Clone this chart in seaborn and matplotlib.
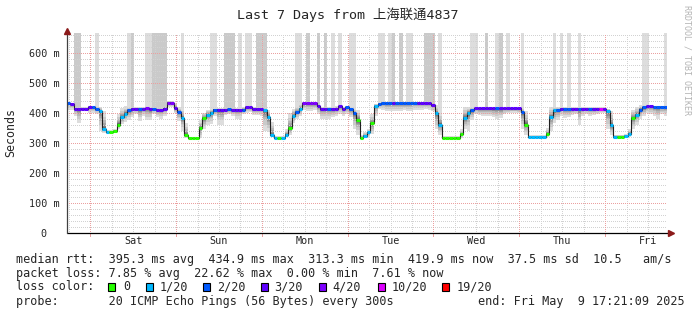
import numpy as np
import matplotlib
matplotlib.use("Agg")
import matplotlib.pyplot as plt
import seaborn as sns
from matplotlib.patches import Rectangle

# ---------------- data ----------------
TITLE = "Last 7 Days from 上海联通4837"
DAY_LABELS = ["Sat", "Sun", "Mon", "Tue", "Wed", "Thu", "Fri"]
Y_TICKS = [0, 100, 200, 300, 400, 500, 600]
Y_LABELS = ["0  ", "100 m", "200 m", "300 m", "400 m", "500 m", "600 m"]
FIRST_MIDNIGHT_H = 6.648   # hours after graph start (Fri 17:21:09) -> Sat 00:00

# hourly median rtt (ms)
MEDIAN_MS = [432, 430, 414, 414, 414, 414, 419, 419, 414, 407,
             345, 336, 336, 339, 361, 385, 397, 409, 414, 414,
             414, 414, 416, 414, 414, 410, 410, 414, 434, 434,
             416, 403, 383, 326, 315, 315, 315, 350, 383, 394,
             401, 411, 411, 411, 411, 412, 411, 411, 411, 411,
             419, 419, 414, 414, 414, 409, 387, 326, 317, 317,
             317, 328, 348, 390, 403, 414, 431, 431, 431, 431,
             422, 414, 414, 414, 414, 414, 422, 414, 418, 412,
             398, 376, 318, 324, 336, 365, 423, 430, 433, 433,
             433, 433, 433, 433, 433, 433, 433, 433, 433, 433,
             433, 433, 425, 398, 361, 318, 318, 318, 318, 318,
             329, 384, 400, 409, 415, 415, 415, 415, 415, 415,
             415, 415, 415, 415, 415, 415, 415, 403, 361, 319,
             319, 319, 319, 319, 330, 386, 408, 410, 414, 414,
             414, 414, 414, 414, 414, 414, 414, 414, 414, 414,
             414, 405, 359, 320, 320, 320, 323, 331, 383, 394,
             411, 418, 422, 422, 420, 420, 420, 420]

# hourly lost pings (of 20)
LOSS = [2, 3, 3, 3, 3, 3, 3, 2, 2, 1,
        1, 1, 0, 0, 0, 1, 1, 2, 3, 3,
        2, 3, 4, 3, 2, 3, 3, 3, 4, 4,
        3, 2, 1, 0, 0, 0, 0, 0, 0, 1,
        1, 2, 3, 3, 3, 2, 3, 3, 3, 2,
        3, 3, 3, 3, 3, 1, 1, 1, 1, 0,
        1, 1, 0, 1, 2, 1, 4, 4, 4, 4,
        3, 3, 3, 2, 3, 3, 3, 3, 2, 2,
        2, 0, 0, 1, 1, 0, 1, 2, 2, 2,
        2, 3, 2, 2, 2, 2, 2, 2, 3, 3,
        3, 3, 3, 1, 1, 0, 0, 0, 0, 0,
        0, 1, 1, 2, 3, 3, 3, 3, 3, 3,
        2, 3, 3, 3, 3, 3, 3, 2, 0, 1,
        1, 1, 1, 1, 0, 1, 1, 2, 3, 2,
        2, 3, 3, 2, 3, 3, 2, 3, 3, 10,
        3, 1, 1, 1, 0, 0, 1, 1, 0, 1,
        2, 2, 3, 3, 2, 2, 2, 2]

# number of pings per hour above the top of the graph
HIGH = [0, 0, 2, 2, 0, 0, 0, 0, 1, 0,
        0, 0, 0, 0, 0, 0, 0, 1, 2, 0,
        0, 0, 1, 1, 2, 2, 2, 2, 0, 0,
        0, 0, 1, 0, 0, 0, 0, 0, 0, 0,
        1, 1, 0, 0, 2, 2, 2, 0, 1, 0,
        1, 1, 0, 2, 2, 2, 0, 0, 0, 0,
        0, 0, 0, 0, 1, 1, 0, 2, 0, 0,
        2, 0, 2, 0, 1, 0, 1, 0, 0, 1,
        1, 0, 0, 0, 0, 0, 0, 1, 1, 0,
        1, 2, 0, 2, 0, 1, 1, 0, 0, 0,
        2, 2, 2, 0, 1, 0, 0, 0, 0, 0,
        0, 0, 0, 1, 1, 0, 0, 2, 0, 0,
        1, 2, 0, 1, 0, 0, 0, 1, 0, 0,
        0, 0, 0, 0, 0, 0, 1, 0, 1, 0,
        1, 0, 0, 1, 0, 0, 0, 0, 0, 0,
        0, 0, 0, 0, 0, 0, 0, 0, 0, 0,
        0, 1, 1, 0, 0, 0, 0, 1]

# lowest ping per hour (ms)
PING_MIN = [410, 408, 390, 366, 405, 405, 400, 400, 395, 340,
            332, 330, 330, 332, 345, 362, 371, 375, 385, 395,
            372, 390, 375, 375, 395, 385, 380, 390, 418, 420,
            398, 372, 340, 318, 312, 312, 312, 316, 345, 358,
            362, 390, 360, 360, 392, 395, 388, 380, 380, 395,
            400, 402, 392, 392, 390, 340, 335, 322, 312, 312,
            312, 320, 325, 365, 380, 390, 410, 405, 405, 410,
            395, 380, 378, 378, 385, 390, 395, 390, 395, 385,
            345, 328, 315, 318, 318, 330, 390, 412, 410, 405,
            405, 405, 405, 405, 408, 405, 405, 410, 410, 410,
            412, 410, 405, 345, 325, 314, 314, 314, 314, 314,
            318, 345, 340, 375, 395, 392, 390, 388, 390, 385,
            380, 382, 395, 398, 400, 400, 398, 345, 325, 315,
            315, 315, 315, 315, 320, 340, 365, 375, 390, 382,
            385, 392, 395, 360, 390, 395, 390, 392, 395, 398,
            398, 345, 325, 316, 316, 316, 318, 320, 345, 360,
            380, 390, 400, 395, 390, 380, 395, 390]

# highest (on-graph) ping per hour (ms)
PING_MAX = [436, 434, 418, 418, 418, 418, 423, 423, 420, 418,
            405, 342, 342, 345, 395, 416, 421, 418, 418, 418,
            418, 418, 420, 418, 418, 414, 414, 425, 440, 440,
            434, 418, 415, 365, 320, 320, 320, 375, 400, 410,
            414, 415, 415, 415, 415, 416, 415, 415, 415, 420,
            423, 423, 418, 418, 418, 416, 410, 370, 322, 322,
            322, 345, 398, 414, 420, 430, 435, 435, 435, 435,
            431, 418, 418, 418, 418, 422, 426, 420, 422, 418,
            412, 410, 325, 335, 345, 395, 430, 436, 437, 437,
            437, 437, 437, 437, 437, 437, 437, 437, 437, 437,
            437, 437, 433, 425, 400, 322, 322, 322, 322, 322,
            345, 418, 420, 418, 419, 419, 419, 419, 419, 419,
            419, 419, 419, 419, 419, 419, 419, 415, 405, 325,
            325, 325, 325, 325, 350, 418, 420, 418, 418, 418,
            418, 418, 418, 418, 418, 418, 418, 418, 418, 418,
            418, 414, 405, 328, 328, 328, 330, 345, 410, 420,
            425, 425, 426, 426, 424, 424, 424, 424]

LOSS_BINS = [0, 1, 2, 3, 4, 10, 19]
LOSS_BIN_LABELS = ["0", "1/20", "2/20", "3/20", "4/20", "10/20", "19/20"]
LOSS_COLORS = ["#26ff00", "#00b8ff", "#0059ff", "#5e00ff", "#7e00ff", "#dd00ff", "#ff0000"]

LINE_RTT = "median rtt:  395.3 ms avg  434.9 ms max  313.3 ms min  419.9 ms now  37.5 ms sd  10.5   am/s"
LINE_LOSS = "packet loss: 7.85 % avg  22.62 % max  0.00 % min  7.61 % now"
LINE_LOSSCOL = "loss color:"
LINE_PROBE = "probe:       20 ICMP Echo Pings (56 Bytes) every 300s"
LINE_END = "end: Fri May  9 17:21:09 2025"

# ---------------- style ----------------
sns.set_style("white")
plt.rcParams["font.family"] = ["DejaVu Sans Mono", "Noto Sans CJK SC"]

W, H = 697, 315
fig = plt.figure(figsize=(W / 100, H / 100), dpi=100)
fig.patch.set_facecolor("white")
X0, X1, YT, YB = 66.5, 667.1, 33.0, 233.3
ax = fig.add_axes([X0 / W, (H - YB) / H, (X1 - X0) / W, (YB - YT) / H])
YMAX = 665.0
NH = len(MEDIAN_MS)
ax.set_xlim(0, NH)
ax.set_ylim(0, YMAX)
for s in ax.spines.values():
    s.set_visible(False)

med = np.array(MEDIAN_MS, float)
pmin = np.array(PING_MIN, float)
pmax = np.array(PING_MAX, float)
high = np.array(HIGH)
edges = np.arange(NH + 1)

def ext(a):
    return np.append(a, a[-1])

# smoke: 10 nested bands, outer = light, inner = dark
weights = [1.0, 0.7, 0.5, 0.35, 0.25, 0.17, 0.11, 0.07, 0.035, 0.012]
for i, w in enumerate(weights):
    g = 221 - 19 * i
    col = "#%02x%02x%02x" % (g, g, g)
    lo = med - (med - pmin) * w
    hi = np.where(high > i, YMAX + 20, med + (pmax - med) * w)
    ax.fill_between(edges, ext(lo), ext(hi), step="post", color=col,
                    linewidth=0, zorder=1 + i * 0.01)

# grid (dotted)
mg = "#d2d2d2"
rg = "#eba0a0"
DOT = (0, (1, 1.4))
gkw = dict(lw=0.72, ls=DOT, antialiased=False)
for v in range(20, 661, 20):
    if v % 100:
        ax.axhline(v, color=mg, zorder=2, **gkw)
for v in range(100, 601, 100):
    ax.axhline(v, color=rg, zorder=2.1, **gkw)
mids = [FIRST_MIDNIGHT_H + 24 * k for k in range(7)]
p = FIRST_MIDNIGHT_H % 6
while p < NH:
    if min(abs(p - m) for m in mids) > 0.1:
        ax.axvline(p, color=mg, zorder=2, **gkw)
    p += 6
for m in mids:
    ax.axvline(m, color=rg, zorder=2.1, **gkw)
    ax.plot([m, m], [-9, 0], color=rg, lw=0.72, clip_on=False, zorder=2.1,
            antialiased=False)

# median line (black steps) + loss coloured segments
sns.lineplot(x=edges, y=ext(med), drawstyle="steps-post", color="#202020",
             linewidth=0.8, ax=ax, zorder=4, sort=False, estimator=None)

def loss_color(n):
    idx = max(j for j, b in enumerate(LOSS_BINS) if n >= b)
    return LOSS_COLORS[idx]

seg_cols = [loss_color(n) for n in LOSS]
ax.hlines(med, edges[:-1], edges[1:], colors=seg_cols, linewidth=2.2, zorder=5,
          capstyle="butt")

# axes lines and arrows
ax.plot([0, NH + 1.2], [0, 0], color="black", lw=0.9, clip_on=False, zorder=6)
ax.plot([0, 0], [0, YMAX + 6], color="#404040", lw=0.9, clip_on=False, zorder=6)
ax.plot([NH + 1.2], [0], marker=">", color="#8b1a1a", markersize=4, clip_on=False, zorder=7)
ax.plot([0], [YMAX + 8], marker="^", color="#8b1a1a", markersize=4, clip_on=False, zorder=7)

# ticks
ax.set_yticks(Y_TICKS)
ax.set_yticklabels(Y_LABELS, fontsize=7.3)
ax.tick_params(axis="y", length=0, pad=5)
ax.set_xticks([FIRST_MIDNIGHT_H + 12 + 24 * k for k in range(7)])
ax.set_xticklabels(DAY_LABELS, fontsize=7.3)
ax.tick_params(axis="x", length=0, pad=2)
ax.set_xlabel("")
ax.set_ylabel("")

def fx(x):
    return x / W

def fy(y):
    return 1 - y / H

fig.text(fx(347.5), fy(15), TITLE, ha="center", va="center", fontsize=9.6)
fig.text(fx(11), fy(132), "Seconds", rotation=90, ha="center", va="center", fontsize=8.4)
fig.text(fx(687), fy(5), "RRDTOOL / TOBI OETIKER", rotation=270, ha="center", va="top",
         fontsize=6, color="#b4b4b4")

LEG = 8.5
fig.text(fx(16), fy(259.3), LINE_RTT, ha="left", va="center", fontsize=LEG)
fig.text(fx(16), fy(273.3), LINE_LOSS, ha="left", va="center", fontsize=LEG)
fig.text(fx(16), fy(287), LINE_LOSSCOL, ha="left", va="center", fontsize=LEG)
box_x = [108.3, 145.7, 203.0, 261.0, 319.3, 378.3, 442.3]
lab_x = [123.0, 160.0, 216.7, 274.0, 332.0, 391.7, 456.7]
for bx, lx, c, lab in zip(box_x, lab_x, LOSS_COLORS, LOSS_BIN_LABELS):
    fig.add_artist(Rectangle((fx(bx), fy(290.5)), 7 / W, 7.5 / H, transform=fig.transFigure,
                             facecolor=c, edgecolor="black", lw=0.8))
    fig.text(fx(lx), fy(287), lab, ha="left", va="center", fontsize=LEG)
fig.text(fx(16), fy(301), LINE_PROBE, ha="left", va="center", fontsize=LEG)
fig.text(fx(478.3), fy(301), LINE_END, ha="left", va="center", fontsize=LEG)

fig.savefig("out.png", dpi=100, facecolor="white")
